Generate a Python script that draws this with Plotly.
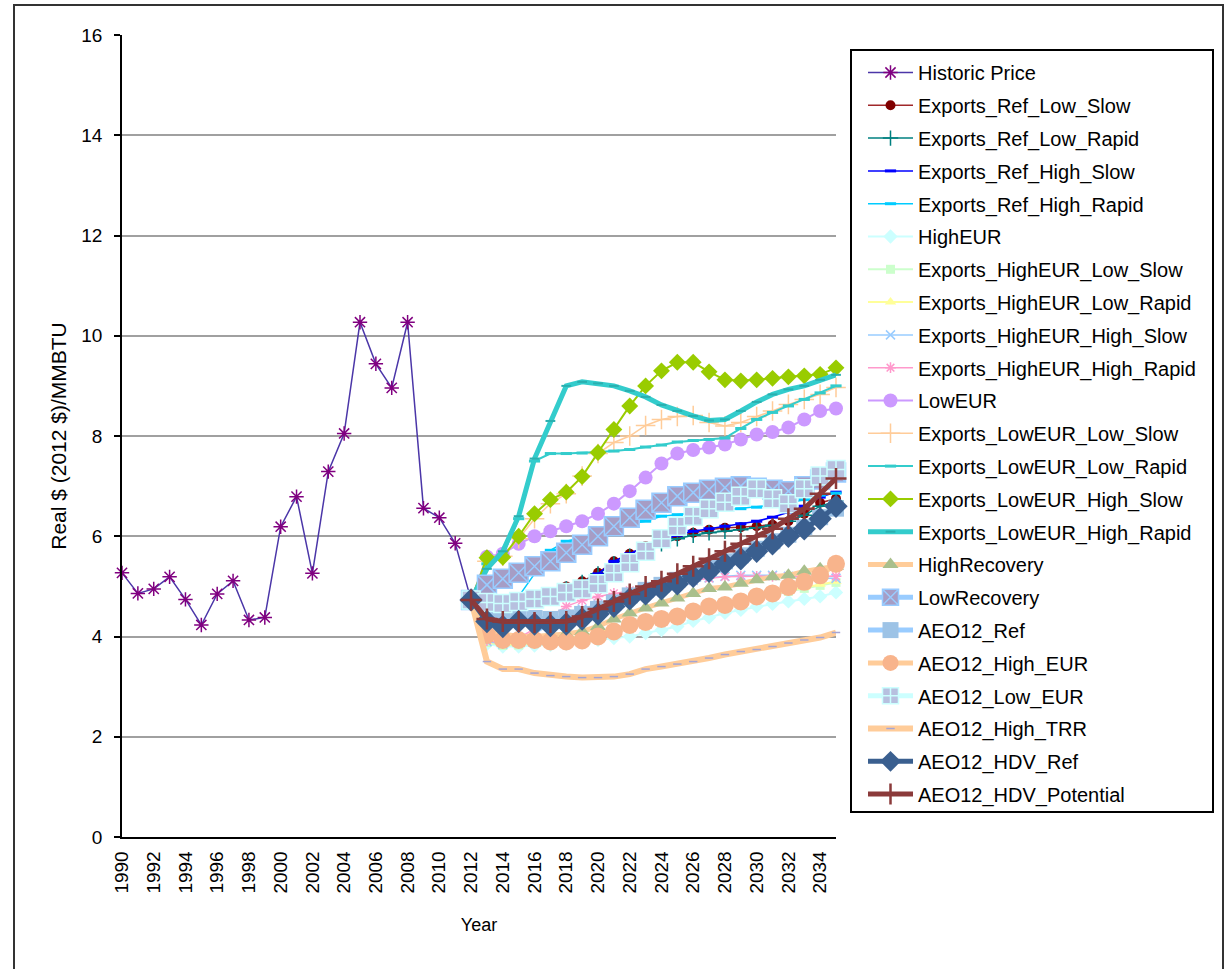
import plotly.graph_objects as go

# ---------------- data ----------------
hist_years = list(range(1990, 2013))
historic_price = [5.27, 4.86, 4.95, 5.19, 4.74, 4.23, 4.85, 5.11, 4.33, 4.38, 6.19, 6.79,
                  5.26, 7.29, 8.05, 10.27, 9.44, 8.96, 10.27, 6.56, 6.37, 5.86, 4.73]

proj_years = list(range(2012, 2036))
exports_ref_low_slow = [4.73, 4.70, 4.68, 4.72, 4.80, 4.87, 5.00, 5.10, 5.27, 5.50, 5.65, 5.80,
                        5.92, 6.00, 6.07, 6.13, 6.17, 6.18, 6.20, 6.23, 6.30, 6.45, 6.67, 6.75]
exports_ref_low_rapid = [4.73, 4.60, 4.58, 4.62, 4.72, 4.82, 4.95, 5.08, 5.25, 5.45, 5.60, 5.72,
                         5.85, 5.95, 6.02, 6.07, 6.10, 6.13, 6.17, 6.22, 6.30, 6.42, 6.60, 6.70]
exports_ref_high_slow = [4.73, 4.62, 4.60, 4.65, 4.72, 4.80, 4.93, 5.07, 5.25, 5.50, 5.65, 5.80,
                         5.92, 6.02, 6.10, 6.15, 6.20, 6.25, 6.30, 6.38, 6.48, 6.60, 6.78, 6.88]
exports_ref_high_rapid = [4.73, 4.65, 4.65, 4.80, 5.25, 5.72, 5.90, 5.97, 6.10, 6.20, 6.25, 6.30,
                          6.40, 6.43, 6.47, 6.50, 6.53, 6.55, 6.58, 6.62, 6.67, 6.73, 6.82, 6.86]
high_eur = [4.73, 3.85, 3.80, 3.80, 3.82, 3.83, 3.85, 3.88, 3.93, 3.97, 4.00, 4.07,
            4.13, 4.20, 4.31, 4.38, 4.47, 4.53, 4.60, 4.65, 4.70, 4.75, 4.80, 4.88]
exports_higheur_low_slow = [4.73, 3.88, 3.82, 3.83, 3.86, 3.90, 3.94, 3.99, 4.06, 4.13, 4.20, 4.27,
                            4.35, 4.42, 4.50, 4.58, 4.65, 4.72, 4.78, 4.84, 4.90, 4.96, 5.02, 5.08]
exports_higheur_low_rapid = [4.73, 3.90, 3.84, 3.85, 3.88, 3.92, 3.96, 4.01, 4.08, 4.15, 4.22, 4.30,
                             4.38, 4.45, 4.53, 4.60, 4.67, 4.74, 4.80, 4.86, 4.92, 4.98, 5.04, 5.10]
exports_higheur_high_slow = [4.73, 3.90, 3.85, 3.92, 4.05, 4.25, 4.42, 4.55, 4.65, 4.75, 4.85, 4.93,
                             5.00, 5.06, 5.12, 5.17, 5.20, 5.22, 5.22, 5.22, 5.20, 5.18, 5.16, 5.16]
exports_higheur_high_rapid = [4.73, 3.92, 3.87, 3.97, 4.15, 4.40, 4.60, 4.72, 4.80, 4.86, 4.92, 4.97,
                              5.02, 5.07, 5.12, 5.16, 5.19, 5.20, 5.20, 5.20, 5.20, 5.20, 5.20, 5.20]
low_eur = [4.73, 5.59, 5.65, 5.85, 6.00, 6.10, 6.20, 6.30, 6.45, 6.65, 6.90, 7.17,
           7.45, 7.65, 7.72, 7.77, 7.83, 7.93, 8.03, 8.08, 8.17, 8.33, 8.50, 8.55]
exports_loweur_low_slow = [4.73, 5.50, 5.60, 5.95, 6.35, 6.65, 6.85, 7.20, 7.65, 7.87, 8.00, 8.21,
                           8.33, 8.39, 8.41, 8.27, 8.20, 8.27, 8.39, 8.50, 8.63, 8.73, 8.83, 8.97]
exports_loweur_low_rapid = [4.73, 5.45, 5.62, 6.35, 7.50, 7.65, 7.65, 7.66, 7.68, 7.70, 7.73, 7.78,
                            7.82, 7.88, 7.91, 7.93, 7.96, 8.15, 8.33, 8.47, 8.60, 8.73, 8.86, 9.00]
exports_loweur_high_slow = [4.73, 5.57, 5.58, 6.00, 6.45, 6.73, 6.88, 7.19, 7.67, 8.13, 8.60, 9.00,
                            9.30, 9.47, 9.47, 9.28, 9.12, 9.10, 9.12, 9.15, 9.18, 9.20, 9.23, 9.36]
exports_loweur_high_rapid = [4.73, 5.35, 5.70, 6.40, 7.55, 8.30, 9.00, 9.08, 9.05, 9.00, 8.90, 8.78,
                             8.62, 8.50, 8.40, 8.31, 8.33, 8.50, 8.68, 8.83, 8.93, 9.00, 9.12, 9.22]
high_recovery = [4.73, 4.10, 4.05, 4.00, 4.00, 4.02, 4.05, 4.10, 4.20, 4.35, 4.47, 4.57,
                 4.67, 4.77, 4.86, 4.96, 4.99, 5.06, 5.13, 5.19, 5.22, 5.30, 5.35, 5.40]
low_recovery = [4.73, 5.03, 5.15, 5.27, 5.40, 5.50, 5.67, 5.83, 6.00, 6.20, 6.37, 6.53,
                6.67, 6.80, 6.87, 6.93, 6.97, 7.00, 6.97, 6.93, 6.90, 7.00, 7.13, 7.27]
aeo12_ref = [4.73, 4.40, 4.35, 4.38, 4.37, 4.35, 4.38, 4.45, 4.55, 4.68, 4.82, 4.93,
             5.03, 5.13, 5.25, 5.37, 5.50, 5.62, 5.75, 5.90, 6.03, 6.18, 6.38, 6.55]
aeo12_high_eur = [4.73, 4.03, 3.93, 3.93, 3.93, 3.90, 3.90, 3.92, 4.00, 4.10, 4.23, 4.29,
                  4.35, 4.40, 4.50, 4.60, 4.63, 4.70, 4.80, 4.86, 4.99, 5.09, 5.22, 5.45]
aeo12_low_eur = [4.73, 4.68, 4.66, 4.70, 4.75, 4.80, 4.88, 4.95, 5.05, 5.27, 5.47, 5.70,
                 5.95, 6.20, 6.40, 6.55, 6.68, 6.80, 6.95, 6.75, 6.65, 6.95, 7.20, 7.33]
aeo12_high_trr = [4.73, 3.50, 3.35, 3.35, 3.27, 3.22, 3.20, 3.18, 3.18, 3.20, 3.25, 3.35,
                  3.40, 3.45, 3.50, 3.57, 3.64, 3.70, 3.74, 3.80, 3.87, 3.93, 3.98, 4.08]
aeo12_hdv_ref = [4.73, 4.30, 4.20, 4.30, 4.25, 4.22, 4.25, 4.35, 4.45, 4.60, 4.75, 4.85,
                 4.95, 5.05, 5.20, 5.30, 5.45, 5.55, 5.70, 5.85, 6.00, 6.15, 6.35, 6.60]
aeo12_hdv_potential = [4.73, 4.35, 4.30, 4.30, 4.28, 4.28, 4.30, 4.40, 4.55, 4.70, 4.85, 5.00,
                       5.10, 5.25, 5.40, 5.55, 5.70, 5.85, 6.00, 6.15, 6.35, 6.55, 6.85, 7.15]

x_tick_labels = [str(y) for y in range(1990, 2035, 2)]
y_tick_values = list(range(0, 17, 2))

# ---------------- styles ----------------
# name, x, y, line color, line width, symbol, marker size, marker color, marker line color, marker line width
series = [
    ("Historic Price", hist_years, historic_price, "#4B36A8", 1.5, "asterisk-open", 12, "#800080", "#800080", 1.5),
    ("Exports_Ref_Low_Slow", proj_years, exports_ref_low_slow, "#A0282A", 1.5, "circle", 10, "#800000", "#800000", 0),
    ("Exports_Ref_Low_Rapid", proj_years, exports_ref_low_rapid, "#008080", 1.5, "cross-thin-open", 11, "#008080", "#008080", 1.5),
    ("Exports_Ref_High_Slow", proj_years, exports_ref_high_slow, "#0000FF", 1.5, "line-ew-open", 8, "#0000FF", "#0000FF", 3),
    ("Exports_Ref_High_Rapid", proj_years, exports_ref_high_rapid, "#00CCFF", 1.5, "line-ew-open", 8, "#00CCFF", "#00CCFF", 3),
    ("HighEUR", proj_years, high_eur, "#CCFFFF", 2, "diamond", 11, "#CCFFFF", "#CCFFFF", 0),
    ("Exports_HighEUR_Low_Slow", proj_years, exports_higheur_low_slow, "#CCFFCC", 2, "square", 9, "#CCFFCC", "#CCFFCC", 0),
    ("Exports_HighEUR_Low_Rapid", proj_years, exports_higheur_low_rapid, "#FFFF99", 2, "triangle-up", 10, "#FFFF99", "#FFFF99", 0),
    ("Exports_HighEUR_High_Slow", proj_years, exports_higheur_high_slow, "#99CCFF", 1.5, "x-thin-open", 9, "#99CCFF", "#99CCFF", 1.5),
    ("Exports_HighEUR_High_Rapid", proj_years, exports_higheur_high_rapid, "#FF99CC", 1.5, "asterisk-open", 9, "#FF99CC", "#FF99CC", 1.5),
    ("LowEUR", proj_years, low_eur, "#CC99FF", 2, "circle", 14, "#CC99FF", "#CC99FF", 0),
    ("Exports_LowEUR_Low_Slow", proj_years, exports_loweur_low_slow, "#FFCC99", 1.5, "cross-thin-open", 14, "#FFCC99", "#FFCC99", 1.5),
    ("Exports_LowEUR_Low_Rapid", proj_years, exports_loweur_low_rapid, "#33CCCC", 2, "line-ew-open", 8, "#33CCCC", "#33CCCC", 3),
    ("Exports_LowEUR_High_Slow", proj_years, exports_loweur_high_slow, "#99CC00", 2, "diamond", 13, "#99CC00", "#99CC00", 0),
    ("Exports_LowEUR_High_Rapid", proj_years, exports_loweur_high_rapid, "#33CCCC", 5, "line-ew-open", 7, "#2AAFAF", "#2AAFAF", 2),
    ("HighRecovery", proj_years, high_recovery, "#FFCC99", 5, "triangle-up", 14, "#A9BF8C", "#A9BF8C", 0),
    ("LowRecovery", proj_years, low_recovery, "#99CCFF", 5, "square-x", 19, "#A69DC5", "#99CCFF", 1.5),
    ("AEO12_Ref", proj_years, aeo12_ref, "#99CCFF", 5, "square", 16, "#9DC3E6", "#9DC3E6", 0),
    ("AEO12_High_EUR", proj_years, aeo12_high_eur, "#FFCC99", 5, "circle", 18, "#F8B48C", "#F8B48C", 0),
    ("AEO12_Low_EUR", proj_years, aeo12_low_eur, "#CCFFFF", 5, "square-cross", 18, "#B7C0DF", "#CCFFFF", 1.5),
    ("AEO12_High_TRR", proj_years, aeo12_high_trr, "#FFCC99", 6, "line-ew-open", 6, "#A5A5D5", "#A5A5D5", 1.5),
    ("AEO12_HDV_Ref", proj_years, aeo12_hdv_ref, "#3A5F8F", 5, "diamond", 18, "#3A5F8F", "#3A5F8F", 0),
    ("AEO12_HDV_Potential", proj_years, aeo12_hdv_potential, "#8B3A3A", 5, "cross-thin-open", 15, "#8B3A3A", "#8B3A3A", 2.5),
]

FONT = "Liberation Sans, Arial, sans-serif"
W, H = 1227, 969
# plot area in page pixels: x 122..836, y 35..837
L, T = 122, 35
R = W - 836
B = H - 837
PW, PH = W - L - R, H - T - B


def px_x(px):
    return (px - L) / PW


def px_y(py):
    return (H - B - py) / PH


fig = go.Figure()
for (name, xs, ys, lc, lw, sym, ms, mc, mlc, mlw) in series:
    fig.add_trace(go.Scatter(
        x=xs, y=ys, name=name, mode="lines+markers", legendgroup=name,
        line=dict(color=lc, width=lw),
        marker=dict(symbol=sym, size=ms, color=mc, line=dict(color=mlc, width=mlw)),
        cliponaxis=False,
    ))

fig.update_layout(
    width=W, height=H, autosize=False,
    margin=dict(l=L, r=R, t=T, b=B, pad=0),
    paper_bgcolor="white", plot_bgcolor="white",
    font=dict(family=FONT, size=18, color="black"),
    showlegend=True,
    legend=dict(
        x=px_x(863), y=px_y(53), xanchor="left", yanchor="top",
        bgcolor="rgba(0,0,0,0)", borderwidth=0,
        font=dict(family=FONT, size=20, color="black"),
        traceorder="grouped", tracegroupgap=3.8, itemwidth=45,
        itemsizing="trace",
    ),
    xaxis=dict(
        range=[1990, 2035], tickmode="array",
        tickvals=[int(t) for t in x_tick_labels], ticktext=x_tick_labels,
        tickangle=-90, showgrid=False, zeroline=False,
        showline=True, linecolor="black", linewidth=1.5,
        ticks="", ticklabelstandoff=5, tickfont=dict(family=FONT, size=19),
        title=dict(text="Year", font=dict(family=FONT, size=18), standoff=26),
    ),
    yaxis=dict(
        range=[0, 16], tickmode="array", tickvals=y_tick_values,
        showgrid=True, gridcolor="#A0A0A0", gridwidth=1.5, zeroline=False,
        showline=True, linecolor="black", linewidth=1.5,
        ticks="outside", ticklen=6, tickcolor="black", tickwidth=1.5,
        ticklabelstandoff=8,
        tickfont=dict(family=FONT, size=19),
        title=dict(text="Real $ (2012 $)/MMBTU", font=dict(family=FONT, size=21), standoff=9),
    ),
    shapes=[
        # outer frame
        dict(type="rect", xref="paper", yref="paper",
             x0=px_x(14), x1=px_x(1223), y0=px_y(990), y1=px_y(5),
             line=dict(color="#333333", width=2), fillcolor="rgba(0,0,0,0)", layer="below"),
        # legend box
        dict(type="rect", xref="paper", yref="paper",
             x0=px_x(851), x1=px_x(1213), y0=px_y(812), y1=px_y(50),
             line=dict(color="black", width=2), fillcolor="rgba(0,0,0,0)", layer="above"),
    ],
)

fig.write_html(
    "out.html",
    config={"displayModeBar": False},
    post_script="document.body.style.margin='0px';document.body.style.overflow='hidden';",
)
